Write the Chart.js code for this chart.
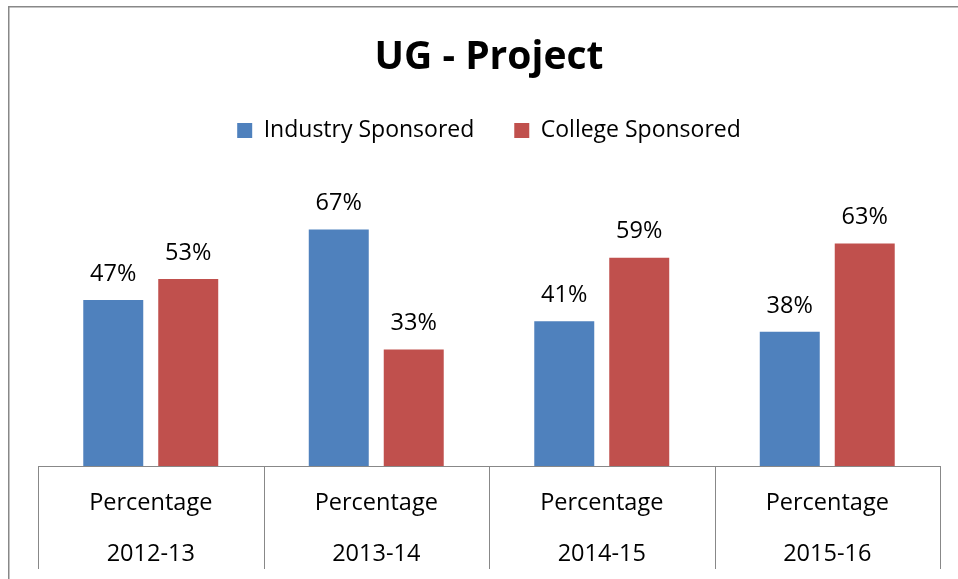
<!DOCTYPE html>
<html><head><meta charset="utf-8">
<script src="https://cdn.jsdelivr.net/npm/chart.js@4"></script>
<style>html,body{margin:0;padding:0;background:#fff;overflow:hidden}#wrap{width:958px;height:579px;position:relative}</style>
</head><body><div id="wrap"><canvas id="c"></canvas></div>
<script>
const categories = ["2012-13", "2013-14", "2014-15", "2015-16"];
const measureLabel = "Percentage";
const seriesNames = ["Industry Sponsored", "College Sponsored"];
const industrySponsored = [47, 67, 41, 38];
const collegeSponsored = [53, 33, 59, 63];
const titleText = "UG - Project";

const FONT = "'Open Sans', Lato, sans-serif";
const GRAY = "#888888";

const framePlugin = {
  id: 'frame',
  beforeDraw(chart) {
    const ctx = chart.ctx;
    ctx.save();
    ctx.fillStyle = '#fff';
    ctx.fillRect(0, 0, chart.width, chart.height);
    ctx.strokeStyle = GRAY;
    ctx.lineWidth = 1.5;
    ctx.strokeRect(8.75, 6.75, chart.width + 20, chart.height + 20);
    ctx.restore();
  }
};

const legendSpace = {
  id: 'legendSpace',
  beforeInit(chart) {
    const fit = chart.legend.fit;
    chart.legend.fit = function () {
      fit.call(this);
      this.height += 31.7;
    };
  }
};

const separators = {
  id: 'separators',
  afterDraw(chart) {
    const x = chart.scales.x;
    const ctx = chart.ctx;
    const top = x.top;
    const bottom = 569;
    ctx.save();
    ctx.strokeStyle = GRAY;
    ctx.lineWidth = 1;
    for (let i = 0; i <= categories.length; i++) {
      const px = Math.round(x.getPixelForValue(i - 0.5)) + 0.5;
      ctx.beginPath();
      ctx.moveTo(px, top);
      ctx.lineTo(px, bottom);
      ctx.stroke();
    }
    ctx.restore();
  }
};

const valueLabels = {
  id: 'valueLabels',
  afterDatasetsDraw(chart) {
    const ctx = chart.ctx;
    ctx.save();
    ctx.font = "23.5px " + FONT;
    ctx.fillStyle = '#000';
    ctx.textAlign = 'center';
    ctx.textBaseline = 'middle';
    chart.data.datasets.forEach((ds, di) => {
      const meta = chart.getDatasetMeta(di);
      meta.data.forEach((el, i) => {
        ctx.fillText(ds.data[i] + '%', el.x, el.y - 26);
      });
    });
    ctx.restore();
  }
};

new Chart(document.getElementById('c'), {
  type: 'bar',
  data: {
    labels: categories.map(c => [measureLabel, c]),
    datasets: [
      { label: seriesNames[0], data: industrySponsored, backgroundColor: '#4F81BD', categoryPercentage: 0.665, barPercentage: 0.8 },
      { label: seriesNames[1], data: collegeSponsored, backgroundColor: '#C0504D', categoryPercentage: 0.665, barPercentage: 0.8 }
    ]
  },
  options: {
    responsive: true,
    maintainAspectRatio: false,
    animation: false,
    events: [],
    layout: { padding: { left: 38, right: 18, top: 0, bottom: 1.5 } },
    plugins: {
      title: {
        display: true,
        text: titleText,
        color: '#000',
        font: { family: FONT, size: 39, weight: 'bold', lineHeight: 1.1 },
        padding: { top: 36, bottom: 0 }
      },
      legend: {
        display: true,
        position: 'top',
        labels: {
          color: '#000',
          font: { family: FONT, size: 23 },
          boxWidth: 15,
          boxHeight: 15,
          padding: 40
        }
      },
      tooltip: { enabled: false }
    },
    scales: {
      x: {
        grid: { display: false, drawTicks: false },
        border: { display: true, color: GRAY, width: 1 },
        ticks: {
          color: '#000',
          font: { family: FONT, size: 23.5, lineHeight: 51 / 23.5 },
          padding: 11.5,
          maxRotation: 0,
          autoSkip: false
        },
        afterFit(scale) { scale.height = 111.5; }
      },
      y: {
        display: false,
        min: 0,
        max: 80
      }
    }
  },
  plugins: [framePlugin, legendSpace, separators, valueLabels]
});
</script>
</body></html>
